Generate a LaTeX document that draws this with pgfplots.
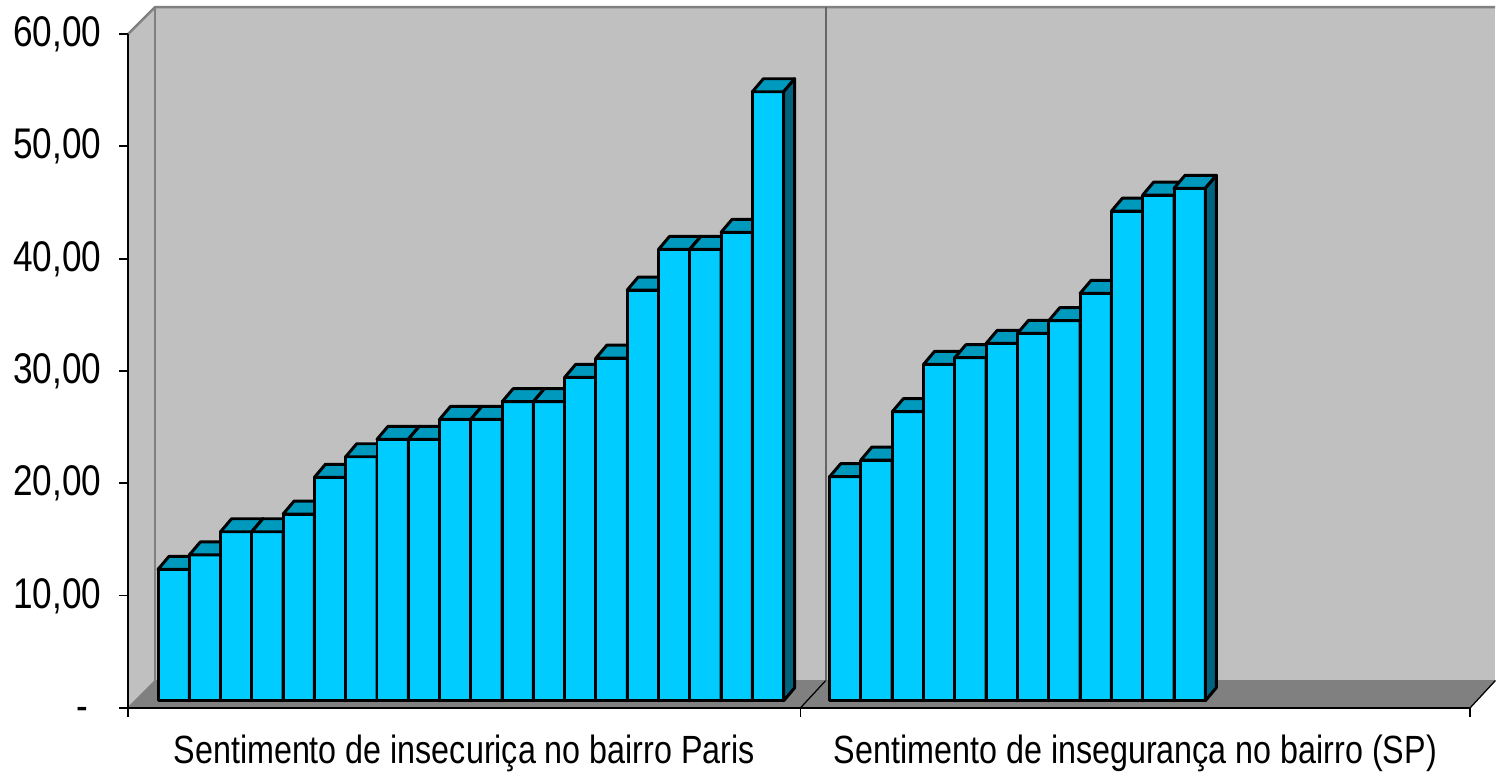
\documentclass[border=0pt]{standalone}
\usepackage{pgfplots}
\pgfplotsset{compat=1.18}
\usepackage{pgfplotstable}
\usepackage{fontspec}
\setmainfont{Liberation Sans}[FakeStretch=0.82]
\definecolor{barfront}{RGB}{0,204,255}
\definecolor{bartop}{RGB}{0,153,190}
\definecolor{barside}{RGB}{0,100,128}
\definecolor{wallc}{RGB}{192,192,192}
\definecolor{floorc}{RGB}{128,128,128}
\definecolor{edgec}{RGB}{128,128,128}

% x = horizontal position of bar centre (picture units), y = value
\pgfplotstableread{
x y
173.7 11.70
205.0 12.98
236.3 15.05
267.6 15.05
298.9 16.63
330.2 19.90
361.5 21.73
392.8 23.28
424.1 23.28
455.4 25.06
486.7 25.06
518.0 26.63
549.3 26.63
580.6 28.80
611.9 30.52
643.2 36.58
674.5 40.20
705.8 40.20
737.1 41.72
768.4 54.24
}\paris
\pgfplotstableread{
x y
845.7 19.95
877.0 21.44
908.4 25.74
939.7 29.96
971.0 30.55
1002.4 31.83
1033.7 32.72
1065.0 33.85
1096.3 36.28
1127.7 43.61
1159.0 45.04
1190.3 45.64
}\sp

\pgfplotsset{
  bar3d/.style={
    scatter, only marks,
    mark=*, mark size=0pt, mark options={draw=none, fill=none},
    visualization depends on={rawy \as \vy},
    scatter/@pre marker code/.code={%
      \pgfmathsetmacro\bb{0.07-\vy*0.11228}%
      \begin{scope}[line width=0.85pt, line join=round, draw=black]
        \filldraw[fill=barfront] (-0.1565cm,0.07cm) rectangle (0.1565cm,\bb cm);
        \filldraw[fill=bartop] (-0.1565cm,0.07cm) -- (-0.0465cm,0.20cm) -- (0.2665cm,0.20cm) -- (0.1565cm,0.07cm) -- cycle;
        \filldraw[fill=barside] (0.1565cm,0.07cm) -- (0.2665cm,0.20cm) -- (0.2665cm,\bb cm+0.13cm) -- (0.1565cm,\bb cm) -- cycle;
      \end{scope}
    },
    scatter/@post marker code/.code={},
  }
}

\begin{document}
\begin{tikzpicture}
\useasboundingbox (0,0) rectangle (14.96cm,7.78cm);
\begin{axis}[
  at={(1.28cm,0.703cm)}, anchor=south west,
  x=0.01cm, y=0.11228cm,
  xmin=128, xmax=1471, ymin=0, ymax=60,
  clip=false, axis on top,
  axis x line*=bottom, axis y line*=left,
  axis line style={black, line width=0.5pt},
  tick align=outside,
  major tick length=0.09cm,
  tick style={black, line width=0.5pt},
  ytick={0,10,...,60},
  yticklabels={{-\hspace*{0.13cm}},{10,00},{20,00},{30,00},{40,00},{50,00},{60,00}},
  yticklabel style={font=\fontsize{12.2pt}{14pt}\selectfont, anchor=base east, yshift=-0.358em, xshift=-0.17cm, inner sep=0pt},
  xtick={128,801,1471},
  xticklabels={,,},
  extra x ticks={464.5,1136},
  extra x tick labels={Sentimento de insecuriça no bairro Paris, Sentimento de insegurança no bairro (SP)},
  extra x tick style={major tick length=0pt, xticklabel style={font=\fontsize{11.2pt}{14pt}\selectfont, anchor=base, inner sep=0pt, yshift=-0.56cm}},
]
% walls and floor
\fill[wallc] (axis cs:155,2.405) rectangle (axis cs:1496,62.41);
\fill[wallc] (axis cs:128,0) -- (axis cs:128,60) -- (axis cs:155,62.41) -- (axis cs:155,2.405) -- cycle;
\filldraw[fill=floorc, draw=floorc, line width=0.3pt] (axis cs:128,0) -- (axis cs:1471,0) -- (axis cs:1496,2.405) -- (axis cs:155,2.405) -- cycle;
\draw[edgec, line width=0.7pt] (axis cs:128,60) -- (axis cs:155,62.41) -- (axis cs:1496,62.41);
\draw[edgec, line width=0.7pt] (axis cs:155,62.41) -- (axis cs:155,2.405);
\draw[black!60, line width=0.6pt] (axis cs:826,62.41) -- (axis cs:826,2.405);
\draw[black, line width=0.35pt] (axis cs:801,0) -- (axis cs:826,2.405);
\draw[black, line width=0.35pt] (axis cs:1471,0) -- (axis cs:1496,2.405);
% bars
\addplot[bar3d] table[x=x, y=y] {\paris};
\addplot[bar3d] table[x=x, y=y] {\sp};
\end{axis}
\end{tikzpicture}
\end{document}
